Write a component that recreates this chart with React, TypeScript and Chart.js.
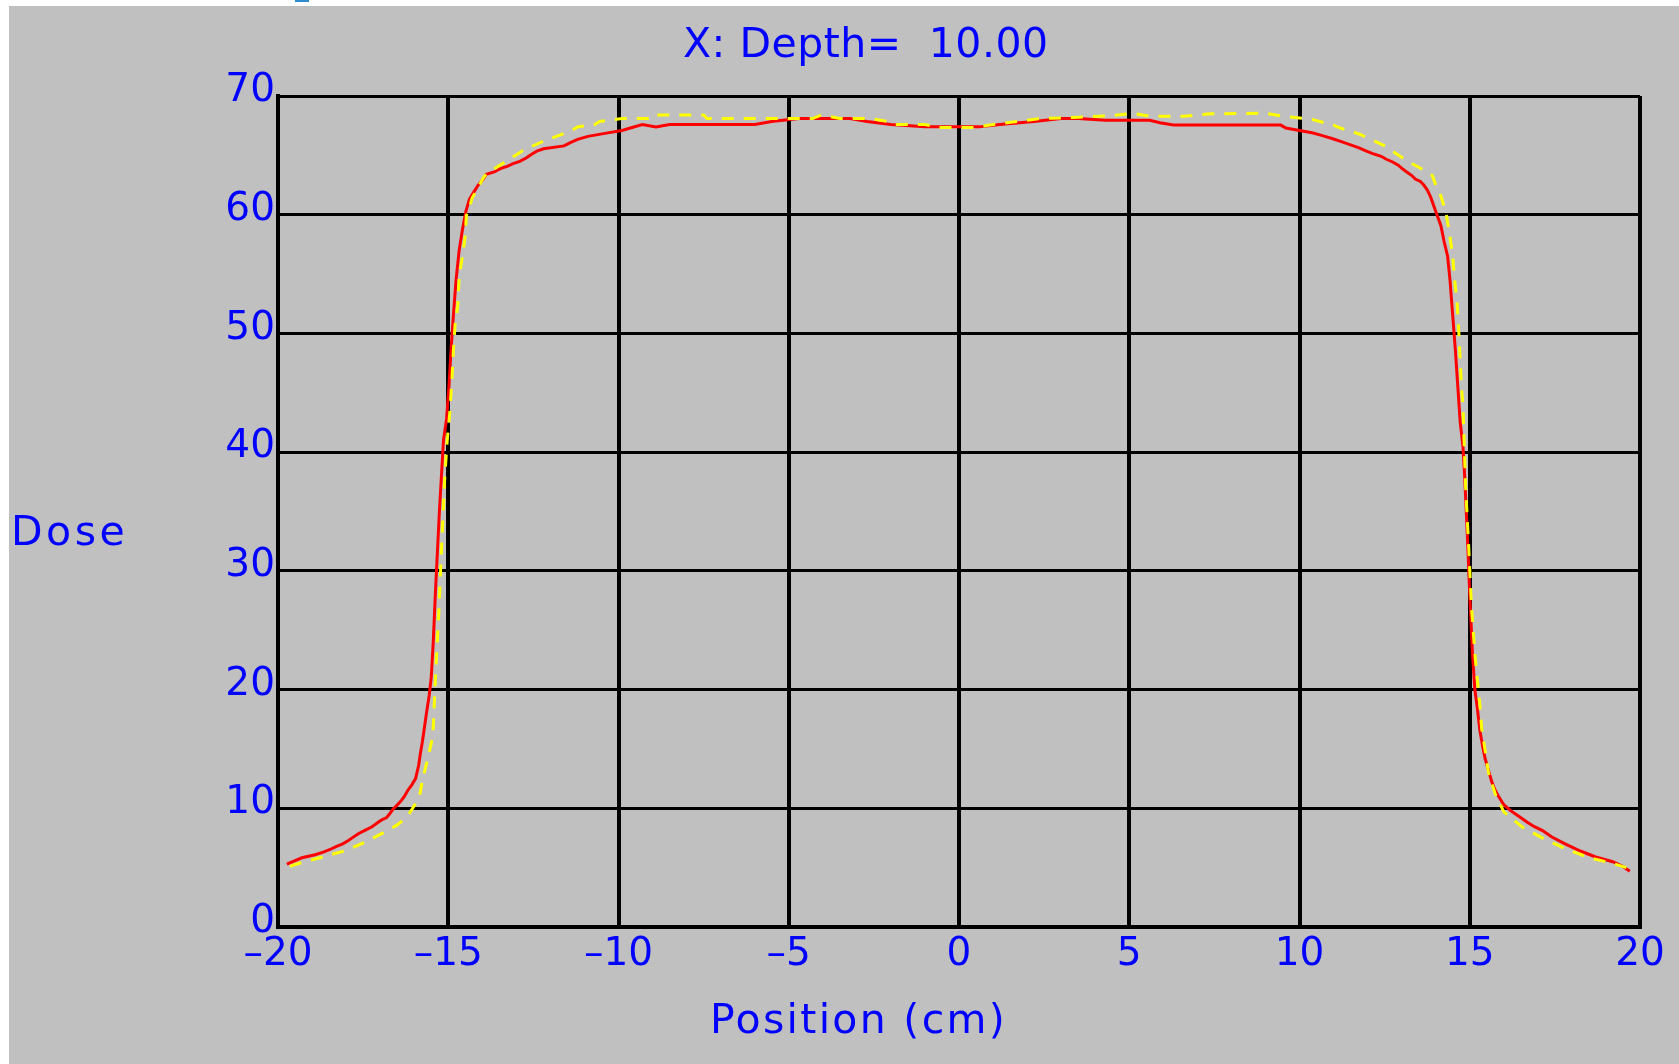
import { useEffect, useRef } from "react";
import { Chart, registerables } from "chart.js";
Chart.register(...registerables);

const W = 1679;
const H = 1064;

const chartTitle = "X: Depth=  10.00";
const xTitle = "Position (cm)";
const yTitle = "Dose";

const xTicks = [-20, -15, -10, -5, 0, 5, 10, 15, 20];
const xTickLabels = ["–20", "–15", "–10", "–5", "0", "5", "10", "15", "20"];
const yTicks = [0, 10, 20, 30, 40, 50, 60, 70];
const yTickLabels = ["0", "10", "20", "30", "40", "50", "60", "70"];

// Red (solid) profile
const redX = [
  -19.74, -19.3, -18.91, -18.67, -18.47, -18.28, -18.1, -17.93, -17.79, -17.64,
  -17.45, -17.25, -17.12, -16.98, -16.81, -16.72, -16.61, -16.48, -16.39, -16.29,
  -16.19, -16.08, -15.96, -15.87, -15.82, -15.76, -15.7, -15.64, -15.56, -15.5,
  -15.44, -15.38, -15.32, -15.26, -15.2, -15.14, -15.05, -14.98, -14.92, -14.85,
  -14.77, -14.68, -14.58, -14.48, -14.38, -14.25, -14.12, -14.0, -13.88, -13.65,
  -13.45, -13.25, -13.1, -12.9, -12.7, -12.55, -12.4, -12.2, -11.6, -11.4,
  -11.2, -10.9, -10.4, -9.9, -9.6, -9.3, -8.9, -8.5, -6.0, -5.5,
  -4.7, -3.2, -2.7, -2.0, -1.0, 0.6, 1.2, 2.2, 3.0, 3.5,
  4.3, 5.6, 5.9, 6.3, 9.45, 9.6, 10.0, 10.4, 10.7, 11.0,
  11.25, 11.5, 11.75, 11.95, 12.15, 12.4, 12.55, 12.75, 12.9, 13.05,
  13.2, 13.3, 13.4, 13.55, 13.65, 13.75, 13.85, 13.95, 14.05, 14.15,
  14.25, 14.35, 14.42, 14.5, 14.58, 14.65, 14.72, 14.8, 14.85, 14.93,
  15.0, 15.08, 15.15, 15.22, 15.3, 15.38, 15.45, 15.55, 15.65, 15.75,
  15.85, 16.0, 16.2, 16.45, 16.7, 16.9, 17.15, 17.4, 17.8, 18.25,
  18.7, 19.2, 19.5, 19.7,
];
const redY = [
  5.3, 5.83, 6.09, 6.31, 6.53, 6.79, 7.01, 7.29, 7.57, 7.86,
  8.14, 8.42, 8.7, 8.98, 9.21, 9.54, 9.97, 10.33, 10.61, 11.0,
  11.5, 11.93, 12.5, 13.6, 14.6, 15.6, 16.8, 18.0, 19.5, 21.0,
  24.0, 28.0, 31.5, 35.0, 38.0, 41.0, 42.8, 45.5, 48.5, 51.5,
  54.5, 57.0, 58.8, 60.3, 61.3, 61.9, 62.5, 62.9, 63.4, 63.6,
  63.9, 64.1, 64.3, 64.5, 64.8, 65.1, 65.35, 65.55, 65.8, 66.1,
  66.35, 66.6, 66.85, 67.1, 67.35, 67.6, 67.4, 67.6, 67.6, 67.85,
  68.1, 68.1, 67.85, 67.6, 67.4, 67.4, 67.6, 67.85, 68.1, 68.1,
  67.95, 67.95, 67.75, 67.55, 67.55, 67.3, 67.1, 66.88, 66.64, 66.38,
  66.13, 65.88, 65.63, 65.37, 65.15, 64.92, 64.67, 64.42, 64.17, 63.8,
  63.5, 63.3, 63.0, 62.8, 62.5, 62.1, 61.5, 60.7, 59.9, 59.1,
  57.7, 56.5, 54.5, 51.5, 48.5, 45.5, 42.5, 40.5, 38.0, 33.0,
  28.0, 23.0, 20.0, 18.5, 16.5, 15.2, 14.2, 13.2, 12.2, 11.5,
  11.0, 10.3, 9.8, 9.3, 8.8, 8.45, 8.1, 7.6, 7.0, 6.4,
  5.9, 5.5, 5.1, 4.7,
];

// Yellow (dashed) profile
const yellowX = [
  -19.65, -19.4, -18.75, -18.0, -17.4, -16.8, -16.5, -16.2, -15.85, -15.75,
  -15.6, -15.45, -15.42, -15.36, -15.27, -15.18, -15.1, -15.03, -14.95, -14.88,
  -14.85, -14.8, -14.72, -14.68, -14.6, -14.5, -14.47, -14.4, -14.3, -14.2,
  -13.95, -13.8, -13.3, -12.75, -12.2, -11.4, -11.2, -10.7, -10.55, -9.9,
  -9.1, -9.0, -7.5, -7.4, -4.3, -4.05, -3.5, -2.6, -2.1, -1.9,
  -1.0, -0.6, 0.4, 1.0, 1.7, 2.4, 3.5, 4.5, 5.1, 5.6,
  6.6, 7.4, 9.0, 9.5, 10.35, 11.0, 11.2, 11.75, 12.5, 13.15,
  13.75, 13.9, 14.05, 14.15, 14.3, 14.4, 14.5, 14.55, 14.62, 14.66,
  14.7, 14.73, 14.76, 14.8, 14.83, 14.88, 14.97, 15.05, 15.15, 15.25,
  15.3, 15.35, 15.45, 15.55, 15.75, 16.0, 16.55, 17.2, 17.8, 18.5,
  19.2, 19.6,
];
const yellowY = [
  5.1, 5.35, 5.85, 6.45, 7.2, 8.1, 8.6, 9.3, 10.9, 12.5,
  14.2, 16.1, 18.2, 22.0, 27.0, 33.0, 38.0, 41.0, 43.5, 46.8,
  48.5, 50.7, 52.4, 54.7, 56.2, 58.2, 59.9, 60.4, 61.4, 61.9,
  63.2, 63.6, 64.5, 65.5, 66.2, 67.05, 67.4, 67.6, 67.85, 68.1,
  68.1, 68.4, 68.4, 68.1, 68.1, 68.4, 68.1, 68.1, 67.85, 67.6,
  67.6, 67.35, 67.35, 67.6, 67.85, 68.1, 68.2, 68.35, 68.55, 68.3,
  68.3, 68.5, 68.55, 68.3, 68.04, 67.55, 67.3, 66.8, 65.8, 64.55,
  63.6, 63.3, 62.1, 61.6, 60.2, 58.5, 56.5, 54.6, 52.9, 51.0,
  49.0, 47.1, 45.3, 44.0, 41.3, 37.0, 32.0, 27.0, 23.0, 20.0,
  18.6, 16.7, 14.9, 13.0, 11.2, 9.7, 8.4, 7.4, 6.6, 5.85,
  5.35, 5.0,
];

const BLUE = "#0000ff";
const FONT = "'DejaVu Sans', sans-serif";

export default function App() {
  const ref = useRef<HTMLCanvasElement>(null);

  useEffect(() => {
    document.body.style.margin = "0";
    const canvas = ref.current;
    if (!canvas) return;

    const decor = {
      id: "decor",
      beforeDraw(chart: any) {
        const ctx = chart.ctx as CanvasRenderingContext2D;
        ctx.save();
        ctx.fillStyle = "#ffffff";
        ctx.fillRect(0, 0, W, H);
        ctx.fillStyle = "#c0c0c0";
        ctx.fillRect(9, 6, W - 9, H - 6);
        ctx.fillStyle = "#2e8bd0";
        ctx.fillRect(295, 0, 14, 2);
        ctx.restore();
      },
      afterDraw(chart: any) {
        const ctx = chart.ctx as CanvasRenderingContext2D;
        const text = (s: string, x: number, y: number, spacing: number) => {
          ctx.save();
          ctx.fillStyle = BLUE;
          ctx.font = `41px ${FONT}`;
          ctx.textAlign = "left";
          ctx.textBaseline = "alphabetic";
          (ctx as any).letterSpacing = `${spacing}px`;
          ctx.fillText(s, x, y);
          ctx.restore();
        };
        text(chartTitle, 683, 57, 0.5);
        text(xTitle, 710, 1033, 2.3);
        text(yTitle, 11, 545, 3.5);
      },
    };

    const chart = new Chart(canvas, {
      type: "scatter",
      data: {
        datasets: [
          {
            label: "Yellow",
            data: yellowX.map((x, i) => ({ x, y: yellowY[i] })),
            showLine: true,
            borderColor: "#ffff00",
            backgroundColor: "#ffff00",
            borderWidth: 3,
            borderDash: [12, 10],
            pointRadius: 0,
            tension: 0,
            fill: false,
          },
          {
            label: "Red",
            data: redX.map((x, i) => ({ x, y: redY[i] })),
            showLine: true,
            borderColor: "#ff0000",
            backgroundColor: "#ff0000",
            borderWidth: 3,
            pointRadius: 0,
            tension: 0,
            fill: false,
          },
        ],
      },
      options: {
        responsive: false,
        animation: false,
        devicePixelRatio: 1,
        layout: { padding: { left: 0, top: 96, right: 39, bottom: 0 } },
        plugins: {
          legend: { display: false },
          tooltip: { enabled: false },
          title: { display: false },
        },
        scales: {
          x: {
            type: "linear",
            min: -20,
            max: 20,
            afterBuildTicks: (s: any) => {
              s.ticks = xTicks.map((v) => ({ value: v }));
            },
            afterFit: (s: any) => {
              s.height = 137;
            },
            grid: { color: "#000000", lineWidth: 4, drawTicks: false },
            border: { color: "#000000", width: 4 },
            ticks: {
              color: BLUE,
              font: { family: FONT, size: 39 },
              padding: 4,
              maxRotation: 0,
              autoSkip: false,
              callback: (v: any) => {
                const i = xTicks.indexOf(Math.round(Number(v)));
                return i >= 0 ? xTickLabels[i] : "";
              },
            },
          },
          y: {
            type: "linear",
            min: 0,
            max: 70,
            afterBuildTicks: (s: any) => {
              s.ticks = yTicks.map((v) => ({ value: v }));
            },
            afterFit: (s: any) => {
              s.width = 278;
            },
            grid: { color: "#000000", lineWidth: 3, drawTicks: false },
            border: { color: "#000000", width: 4 },
            ticks: {
              color: BLUE,
              font: { family: FONT, size: 39 },
              padding: 3,
              labelOffset: -5,
              autoSkip: false,
              callback: (v: any) => {
                const i = yTicks.indexOf(Math.round(Number(v)));
                return i >= 0 ? yTickLabels[i] : "";
              },
            },
          },
        },
      },
      plugins: [decor],
    } as any);

    return () => chart.destroy();
  }, []);

  return (
    <canvas
      ref={ref}
      width={W}
      height={H}
      style={{ display: "block", width: W, height: H }}
    />
  );
}
